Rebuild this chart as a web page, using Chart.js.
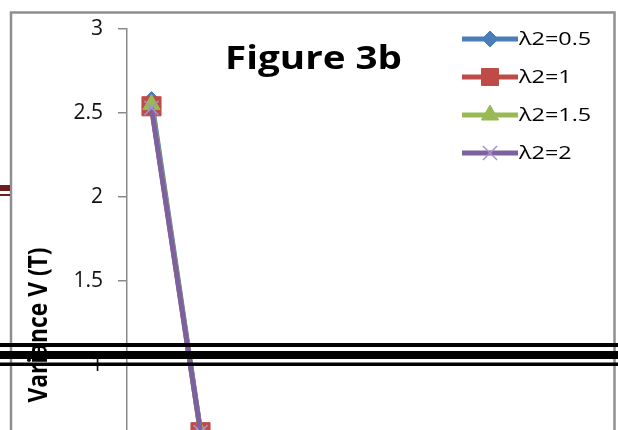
<!DOCTYPE html>
<html>
<head>
<meta charset="utf-8">
<script src="https://cdn.jsdelivr.net/npm/chart.js@4/dist/chart.umd.min.js"></script>
<style>
  html, body { margin: 0; padding: 0; overflow: hidden; background: #fff; }
  canvas { display: block; }
</style>
</head>
<body>
<canvas id="chart" width="618" height="600"></canvas>
<script>
// values (only the first two points are visible)
const categories = ['1', '2'];
const seriesLabels = ['λ2=0.5', 'λ2=1', 'λ2=1.5', 'λ2=2'];
const lambda05 = [2.58, 0.61];
const lambda1 = [2.54, 0.6];
const lambda15 = [2.55, 0.6];
const lambda2 = [2.53, 0.6];
const yTickValues = [0, 0.5, 1, 1.5, 2, 2.5, 3];

const colors = ['#4a7ebb', '#be4b48', '#98b954', '#7d60a0'];
const markers = [
    { style: 'rectRot', radius: 8, border: 1 },
    { style: 'rect', radius: 13.5, border: 1 },
    { style: 'triangle', radius: 10, border: 1 },
    { style: 'crossRot', radius: 10, border: 1.5 },
];
const markerBorder = ['#4a7ebb', '#be4b48', '#98b954', '#a592cc'];

// draw text squeezed/stretched so it covers a given width
function fitText(ctx, text, x, y, font, width, align) {
    ctx.save();
    ctx.font = font;
    const w = ctx.measureText(text).width;
    const sx = width / w;
    ctx.translate(x, y);
    ctx.scale(sx, 1);
    ctx.textAlign = align || 'left';
    ctx.fillText(text, 0, 0);
    ctx.restore();
    return sx;
}

const decor = {
    id: 'decor',
    afterDraw(chart) {
        const ctx = chart.ctx;
        ctx.save();

        // outer chart frame
        ctx.strokeStyle = '#8f8f8f';
        ctx.lineWidth = 2.5;
        ctx.beginPath();
        ctx.moveTo(11, 700);
        ctx.lineTo(11, 12.5);
        ctx.lineTo(614.5, 12.5);
        ctx.lineTo(614.5, 700);
        ctx.stroke();

        // title
        ctx.fillStyle = '#000';
        ctx.textBaseline = 'alphabetic';
        fitText(ctx, 'Figure 3b', 225, 68.5, 'bold 32px "Open Sans"', 177, 'left');

        // y axis title (rotated)
        ctx.save();
        ctx.translate(39, 325);
        ctx.rotate(-Math.PI / 2);
        ctx.scale(1, 1.25);
        ctx.font = 'bold 22px "Open Sans"';
        ctx.textAlign = 'center';
        ctx.textBaseline = 'middle';
        const tw = ctx.measureText('Variance V (T)').width;
        ctx.scale(155 / tw, 1);
        ctx.fillText('Variance V (T)', 0, 0);
        ctx.restore();

        // legend
        chart.data.datasets.forEach((ds, i) => {
            const y = 39 + i * 38;
            ctx.strokeStyle = colors[i];
            ctx.lineWidth = 5;
            ctx.beginPath();
            ctx.moveTo(462, y);
            ctx.lineTo(518, y);
            ctx.stroke();
            ctx.fillStyle = colors[i];
            ctx.strokeStyle = markerBorder[i];
            ctx.lineWidth = markers[i].border;
            Chart.helpers.drawPoint(ctx, {
                pointStyle: markers[i].style,
                radius: markers[i].style === 'rect' ? 12 : markers[i].radius,
                rotation: 0,
                borderWidth: markers[i].border,
            }, 490, y);
            ctx.fillStyle = '#000';
            ctx.textBaseline = 'middle';
            ctx.font = '18px "Open Sans"';
            ctx.save();
            ctx.translate(519, y + 1);
            ctx.scale(1.3, 1);
            ctx.fillText(ds.label, 0, 0);
            ctx.restore();
        });

        // dark marks from the page behind the chart
        ctx.fillStyle = '#6b2020';
        ctx.fillRect(0, 185, 10, 6);
        ctx.fillRect(0, 194, 10, 2);

        ctx.fillStyle = '#000';
        ctx.fillRect(0, 343, 618, 4);
        ctx.fillRect(0, 351, 618, 8);
        ctx.fillRect(0, 362.5, 618, 3.5);

        ctx.restore();
    }
};

const seriesValues = [lambda05, lambda1, lambda15, lambda2];

new Chart(document.getElementById('chart'), {
    type: 'line',
    data: {
        labels: categories,
        datasets: seriesValues.map((vals, i) => ({
            label: seriesLabels[i],
            data: vals,
            borderColor: colors[i],
            backgroundColor: colors[i],
            borderWidth: 5,
            pointStyle: markers[i].style,
            pointRadius: markers[i].radius,
            pointBorderColor: markerBorder[i],
            pointBackgroundColor: colors[i],
            pointBorderWidth: markers[i].border,
            order: 4 - i,
            tension: 0,
        })),
    },
    options: {
        responsive: false,
        animation: false,
        layout: { padding: { top: 29, left: 0, right: 393, bottom: 67 } },
        plugins: {
            legend: { display: false },
            tooltip: { enabled: false },
            title: { display: false },
        },
        scales: {
            x: { display: false, offset: true },
            y: {
                min: 0,
                max: 3,
                afterFit: (s) => { s.width = 127; },
                afterBuildTicks: (s) => { s.ticks = yTickValues.map(v => ({ value: v })); },
                ticks: {
                    padding: 15,
                    color: '#111',
                    font: { family: 'Open Sans', size: 21 },
                    callback: (v) => String(v),
                },
                grid: {
                    drawOnChartArea: false,
                    drawTicks: true,
                    tickLength: 9,
                    color: '#8a8a8a',
                    lineWidth: 1.5,
                },
                border: { display: true, color: '#8a8a8a', width: 1.5 },
            },
        },
    },
    plugins: [decor],
});
</script>
</body>
</html>
